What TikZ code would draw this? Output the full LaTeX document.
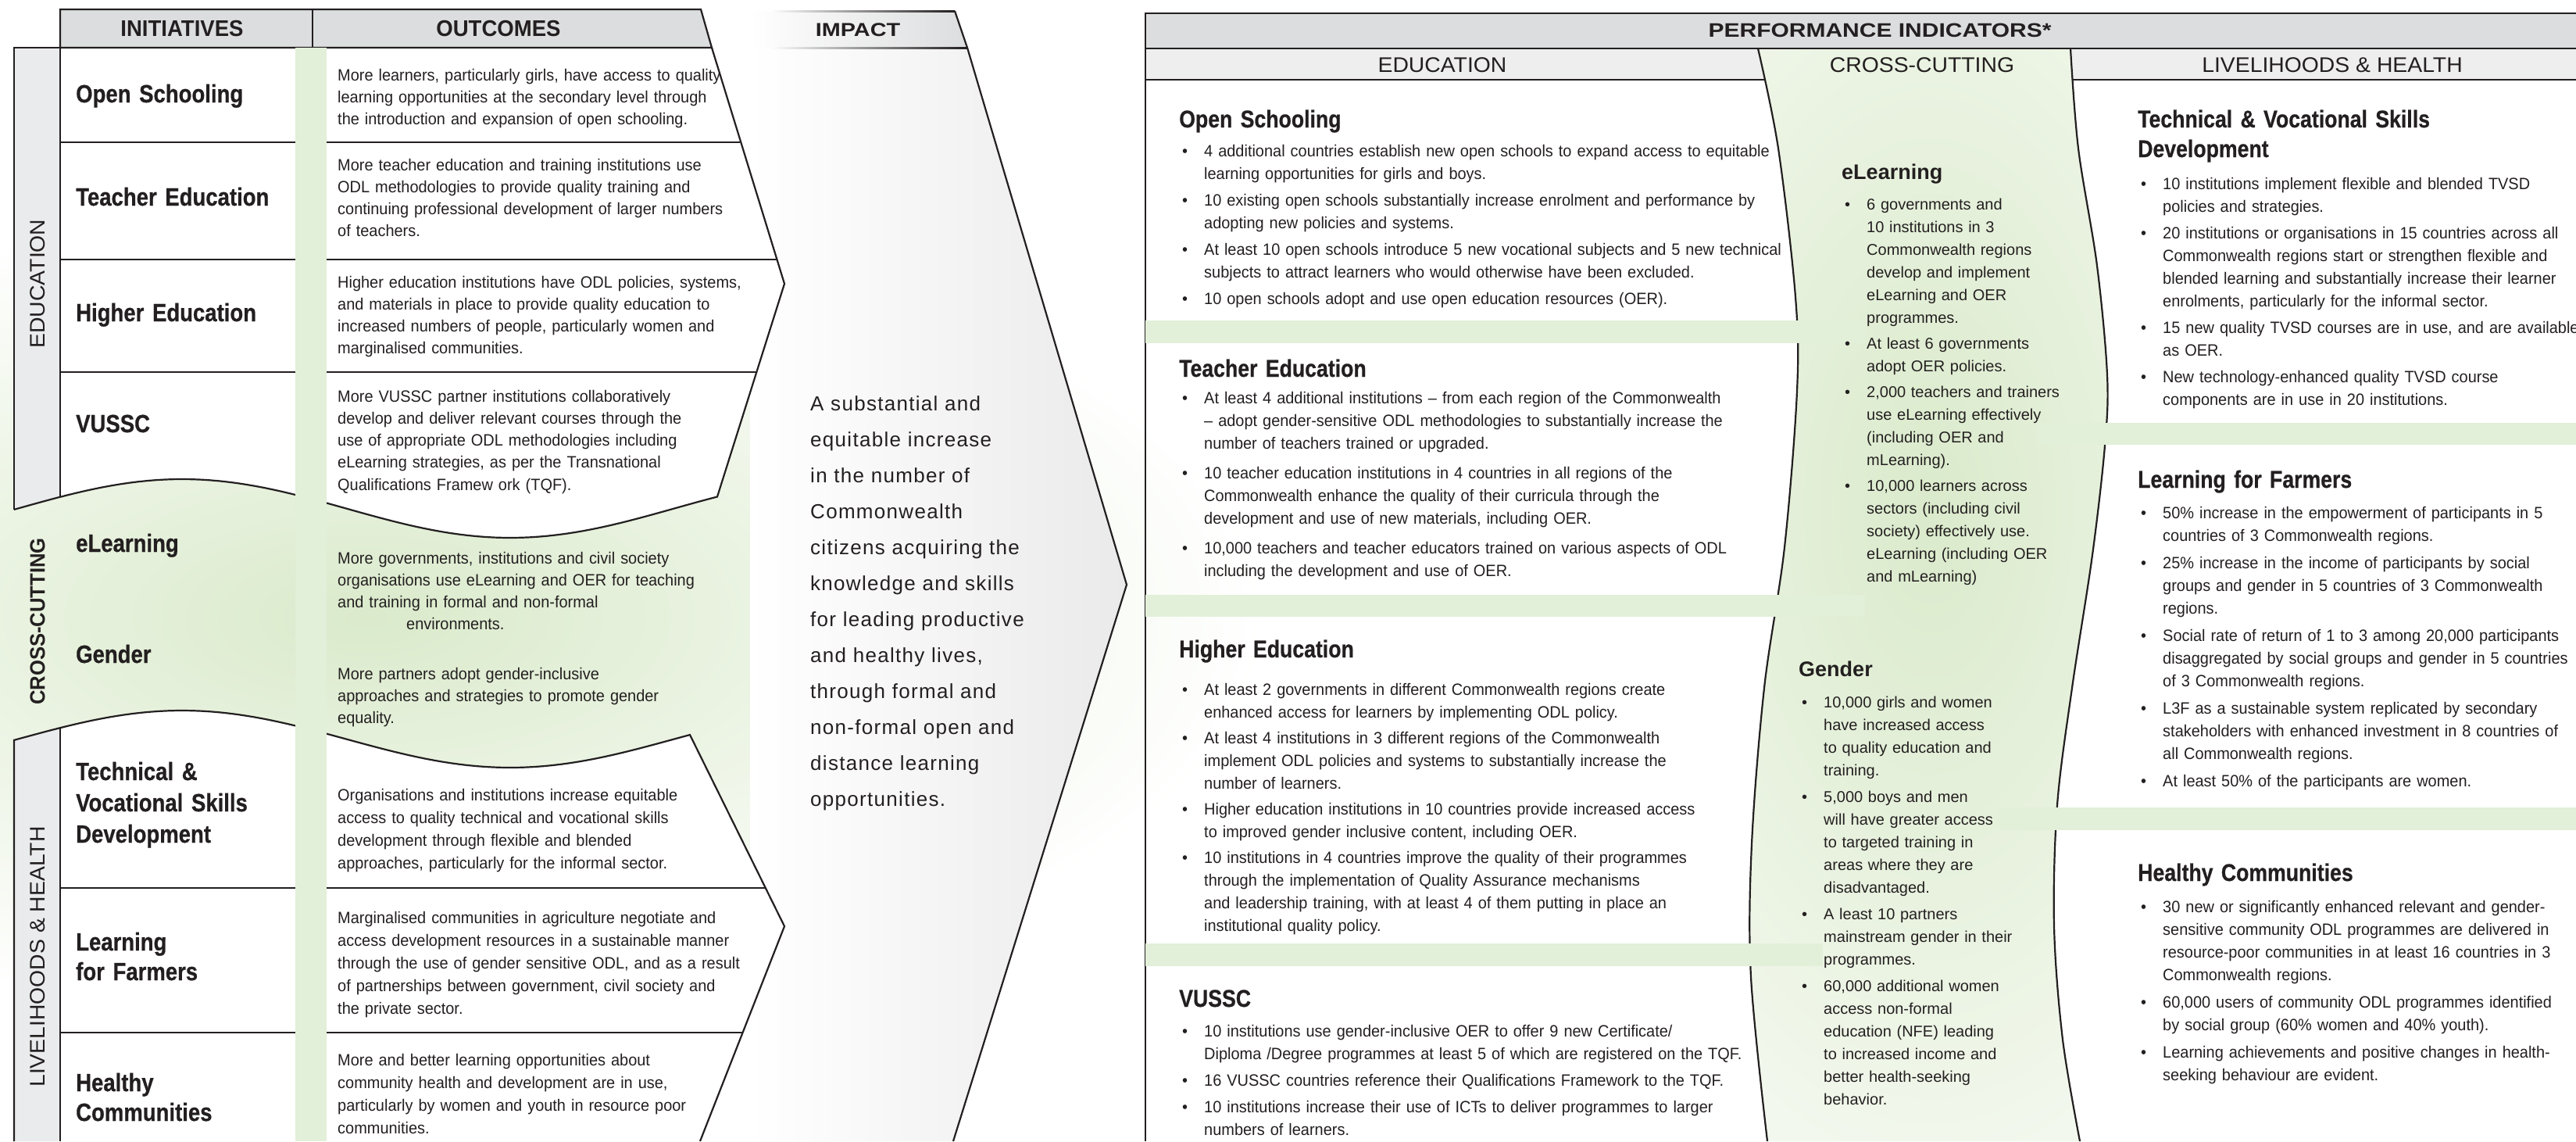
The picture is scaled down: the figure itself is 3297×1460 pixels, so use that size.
\documentclass[tikz,border=0pt]{standalone}
\usepackage{fontspec}
\setmainfont{Liberation Sans}
\newfontfamily\condfont[FakeStretch=0.95]{Liberation Sans}
\newfontfamily\labfont[FakeStretch=0.86,BoldFeatures={FakeBold=0.6}]{Liberation Sans}
\newfontfamily\capfont[FakeStretch=1.05]{Liberation Sans}
\newfontfamily\widefont[FakeStretch=1.2]{Liberation Sans}
\newfontfamily\impfont[LetterSpace=5]{Liberation Sans}

\definecolor{ink}{HTML}{231F20}
\definecolor{hdrgray}{HTML}{DCDDDE}
\definecolor{subgray}{HTML}{EEEEEF}
\definecolor{bandgray}{HTML}{EAEBEC}
\definecolor{impgray}{HTML}{EAEAEA}
\definecolor{stripgreen}{HTML}{E2EFD9}
\definecolor{glowgreen}{HTML}{DAEACB}

\newlength{\itemgap}
\newcommand{\bitem}[1]{\noindent\makebox[32pt][l]{\hspace{4pt}\textbullet}\begin{tabular}[t]{@{}l@{}}#1\end{tabular}\par\vspace{\itemgap}}

\begin{document}
\begin{tikzpicture}[x=1pt,y=-1pt,
  declare function={wtop(\x)=650.5-37.5*cos(0.428571*(\x-233));
                    wbot(\x)=945.5-36.5*cos(0.428571*(\x-233));},
  edge/.style={draw=ink,line width=2.2pt},
  rowline/.style={draw=ink,line width=1.8pt},
  hdrtext/.style={anchor=base,inner sep=0pt,text=ink,font={\condfont\bfseries\fontsize{29}{32}\selectfont}},
  widehdr/.style={anchor=base,inner sep=0pt,text=ink,font={\widefont\bfseries\fontsize{25}{28}\selectfont}},
  subhdr/.style={anchor=base,inner sep=0pt,text=ink,font={\capfont\fontsize{27}{30}\selectfont}},
  initlabel/.style={anchor=base west,inner sep=0pt,text width=300pt,align=left,text=ink,font={\labfont\bfseries\fontsize{32}{40}\selectfont}},
  outtext/.style={anchor=base west,inner sep=0pt,text width=560pt,align=left,text=ink,font={\condfont\fontsize{21}{#1}\selectfont}},
  outtext/.default=28.3,
  eduhead/.style={anchor=base west,inner sep=0pt,text width=600pt,align=left,text=ink,font={\labfont\bfseries\fontsize{31}{38}\selectfont}},
  crosshead/.style={anchor=base west,inner sep=0pt,text=ink,font={\bfseries\fontsize{27}{32}\selectfont}},
  edulist/.style={anchor=base west,inner sep=0pt,text width=800pt,align=left,text=ink,
    font={\condfont\fontsize{21}{29}\selectfont\lineskip=0pt},execute at begin node={\setlength{\itemgap}{#1}}},
  crosslist/.style={anchor=base west,inner sep=0pt,text width=400pt,align=left,text=ink,
    font={\fontsize{20}{29}\selectfont\lineskip=0pt},execute at begin node={\setlength{\itemgap}{#1}}},
  imptext/.style={anchor=base west,inner sep=0pt,text width=420pt,align=left,text=ink,font={\impfont\fontsize{26}{46}\selectfont}}]

\path[use as bounding box] (0,0) rectangle (3297,1460);

% glow behind the cross-cutting band
\shade[inner color=glowgreen,outer color=white] (470,790) ellipse [x radius=1150pt,y radius=520pt];

% impact arrow
\shade[left color=white,right color=impgray] (960,61) -- (1238,61) -- (1442,748) -- (1220,1460) -- (960,1460) -- cycle;
\shade[left color=white,right color=hdrgray] (960,14) -- (1222,14) -- (1238,61) -- (960,61) -- cycle;
\shade[left color=white,right color=ink] (985,13) rectangle (1222,15.2);
\shade[left color=white,right color=ink] (985,60) rectangle (1238,62.2);
\draw[edge] (1222,14) -- (1238,61) -- (1442,748) -- (1220,1460);

% education block
\fill[white] (77,61) -- (911,61) -- (1004,363) -- (918,{wtop(918)}) -- plot[domain=918:77,samples=80] (\x,{wtop(\x)}) -- cycle;
\fill[bandgray] (18,61) -- (77,61) -- (77,{wtop(77)}) -- plot[domain=77:18,samples=20] (\x,{wtop(\x)}) -- cycle;
\filldraw[fill=hdrgray,edge] (77,12) -- (897,12) -- (911,61) -- (77,61) -- cycle;
\draw[edge] (400,12) -- (400,61);
\draw[edge] (18,{wtop(18)}) -- (18,61) -- (77,61);
\draw[edge] (77,61) -- (77,{wtop(77)});
\draw[edge] plot[domain=18:918,samples=80] (\x,{wtop(\x)}) -- (1004,363) -- (911,61);
\draw[rowline] (77,182) -- (947,182);
\draw[rowline] (77,332) -- (994,332);
\draw[rowline] (77,476) -- (968,476);

% livelihoods block
\fill[white] plot[domain=77:883,samples=80] (\x,{wbot(\x)}) -- (1004,1185) -- (896,1460) -- (77,1460) -- cycle;
\fill[bandgray] plot[domain=18:77,samples=20] (\x,{wbot(\x)}) -- (77,1460) -- (18,1460) -- cycle;
\draw[edge] (18,1460) -- plot[domain=18:883,samples=80] (\x,{wbot(\x)}) -- (1004,1185) -- (896,1460);
\draw[edge] (77,{wbot(77)}) -- (77,1460);
\draw[rowline] (77,1136) -- (980,1136);
\draw[rowline] (77,1321) -- (950,1321);

\fill[stripgreen] (378,61) rectangle (418,1460);

% performance indicators panel
\fill[hdrgray] (1466,17) rectangle (3297,62);
\fill[subgray] (1466,62) rectangle (3297,102);
\draw[edge] (1466,102) -- (3297,102);
\begin{scope}
\clip (2250,62) -- (2650,62)
  -- plot[smooth,tension=0.55] coordinates {(2650,62) (2660,190) (2684,340) (2697,480) (2694,570) (2678,710) (2652,880) (2633,1030) (2629,1185) (2640,1330) (2662,1460)}
  -- plot[smooth,tension=0.55] coordinates {(2262,1460) (2241,1250) (2242,1080) (2258,880) (2284,700) (2300,500) (2298,380) (2276,190) (2250,62)} -- cycle;
\fill[white] (2200,62) rectangle (2720,1460);
\shade[inner color=glowgreen,outer color=white] (2470,650) ellipse [x radius=700pt,y radius=1300pt];
\end{scope}
\draw[edge] (3297,17) -- (1466,17) -- (1466,1460);
\draw[edge] (1466,62) -- (3297,62);
\draw[edge] plot[smooth,tension=0.55] coordinates {(2250,62) (2276,190) (2298,380) (2300,500) (2284,700) (2258,880) (2242,1080) (2241,1250) (2262,1460)};
\draw[edge] plot[smooth,tension=0.55] coordinates {(2650,62) (2660,190) (2684,340) (2697,480) (2694,570) (2678,710) (2652,880) (2633,1030) (2629,1185) (2640,1330) (2662,1460)};

\fill[stripgreen] (1466,410) rectangle (2388,439);
\fill[stripgreen] (2608,541) rectangle (3297,569);
\fill[stripgreen] (1466,761) rectangle (2387,789);
\fill[stripgreen] (2559,1033) rectangle (3297,1062);
\fill[stripgreen] (1466,1207) rectangle (2333,1236);

% headers
\node[hdrtext] (hinit) at (233,46) {INITIATIVES};
\node[hdrtext] (hout) at (638,46) {OUTCOMES};
\node[widehdr,font={\widefont\bfseries\fontsize{24}{26}\selectfont}] (himp) at (1098,46) {IMPACT};
\node[widehdr] (hperf) at (2406,47) {PERFORMANCE INDICATORS*};
\node[subhdr] (sedu) at (1846,92) {EDUCATION};
\node[subhdr] (scross) at (2460,92) {CROSS-CUTTING};
\node[subhdr] (sliv) at (2985,92) {LIVELIHOODS \& HEALTH};

\node[subhdr,anchor=center,rotate=90] (cedu) at (48,363) {EDUCATION};
\node[subhdr,anchor=center,rotate=90,font={\condfont\bfseries\fontsize{27}{30}\selectfont}] (ccross) at (48,795) {CROSS-CUTTING};
\node[subhdr,anchor=center,rotate=90] (cliv) at (48,1224) {LIVELIHOODS \& HEALTH};

% initiatives
\node[initlabel] (iopen) at (97,131) {Open Schooling};
\node[initlabel] (iteach) at (97,263) {Teacher Education};
\node[initlabel] (ihigh) at (97,411) {Higher Education};
\node[initlabel] (ivussc) at (97,553) {VUSSC};
\node[initlabel] (ielearn) at (97,706) {eLearning};
\node[initlabel] (igender) at (97,848) {Gender};
\node[initlabel] (itvsd) at (97,998) {Technical \&\\Vocational Skills\\Development};
\node[initlabel,font={\labfont\bfseries\fontsize{32}{38}\selectfont}] (ifarm) at (97,1216) {Learning\\for Farmers};
\node[initlabel,font={\labfont\bfseries\fontsize{32}{38}\selectfont}] (ihealth) at (97,1396) {Healthy\\Communities};

% outcomes
\node[outtext] (oopen) at (432,103) {More learners, particularly girls, have access to quality\\learning opportunities at the secondary level through\\the introduction and expansion of open schooling.};
\node[outtext] (oteach) at (432,218) {More teacher education and training institutions use\\ODL methodologies to provide quality training and\\continuing professional development of larger numbers\\of teachers.};
\node[outtext] (ohigh) at (432,368) {Higher education institutions have ODL policies, systems,\\and materials in place to provide quality education to\\increased numbers of people, particularly women and\\marginalised communities.};
\node[outtext] (ovussc) at (432,514) {More VUSSC partner institutions collaboratively\\develop and deliver relevant courses through the\\use of appropriate ODL methodologies including\\eLearning strategies, as per the Transnational\\Qualifications Framew ork (TQF).};
\node[outtext] (oelearn) at (432,721) {More governments, institutions and civil society\\organisations use eLearning and OER for teaching\\and training in formal and non-formal\\\hspace*{88pt}environments.};
\node[outtext] (ogender) at (432,869) {More partners adopt gender-inclusive\\approaches and strategies to promote gender\\equality.};
\node[outtext=29] (otvsd) at (432,1024) {Organisations and institutions increase equitable\\access to quality technical and vocational skills\\development through flexible and blended\\approaches, particularly for the informal sector.};
\node[outtext=29] (ofarm) at (432,1181) {Marginalised communities in agriculture negotiate and\\access development resources in a sustainable manner\\through the use of gender sensitive ODL, and as a result\\of partnerships between government, civil society and\\the private sector.};
\node[outtext=29] (ohealth) at (432,1363) {More and better learning opportunities about\\community health and development are in use,\\particularly by women and youth in resource poor\\communities.};

% impact
\node[imptext] (impact) at (1037,525) {A substantial and\\equitable increase\\in the number of\\Commonwealth\\citizens acquiring the\\knowledge and skills\\for leading productive\\and healthy lives,\\through formal and\\non-formal open and\\distance learning\\opportunities.};

% education indicators
\node[eduhead] (popen) at (1509,163) {Open Schooling};
\node[edulist=5pt] (lopen) at (1509,200) {%
\bitem{4 additional countries establish new open schools to expand access to equitable\\learning opportunities for girls and boys.}
\bitem{10 existing open schools substantially increase enrolment and performance by\\adopting new policies and systems.}
\bitem{At least 10 open schools introduce 5 new vocational subjects and 5 new technical\\subjects to attract learners who would otherwise have been excluded.}
\bitem{10 open schools adopt and use open education resources (OER).}};
\node[eduhead] (pteach) at (1509,482) {Teacher Education};
\node[edulist=9pt] (lteach) at (1509,516) {%
\bitem{At least 4 additional institutions – from each region of the Commonwealth\\– adopt gender-sensitive ODL methodologies to substantially increase the\\number of teachers trained or upgraded.}
\bitem{10 teacher education institutions in 4 countries in all regions of the\\Commonwealth enhance the quality of their curricula through the\\development and use of new materials, including OER.}
\bitem{10,000 teachers and teacher educators trained on various aspects of ODL\\including the development and use of OER.}};
\node[eduhead] (phigh) at (1509,841) {Higher Education};
\node[edulist=4pt] (lhigh) at (1509,889) {%
\bitem{At least 2 governments in different Commonwealth regions create\\enhanced access for learners by implementing ODL policy.}
\bitem{At least 4 institutions in 3 different regions of the Commonwealth\\implement ODL policies and systems to substantially increase the\\number of learners.}
\bitem{Higher education institutions in 10 countries provide increased access\\to improved gender inclusive content, including OER.}
\bitem{10 institutions in 4 countries improve the quality of their programmes\\through the implementation of Quality Assurance mechanisms\\and leadership training, with at least 4 of them putting in place an\\institutional quality policy.}};
\node[eduhead] (pvussc) at (1509,1288) {VUSSC};
\node[edulist=5pt] (lvussc) at (1509,1326) {%
\bitem{10 institutions use gender-inclusive OER to offer 9 new Certificate/\\Diploma /Degree programmes at least 5 of which are registered on the TQF.}
\bitem{16 VUSSC countries reference their Qualifications Framework to the TQF.}
\bitem{10 institutions increase their use of ICTs to deliver programmes to larger\\numbers of learners.}};

% cross-cutting indicators
\node[crosshead] (pelearn) at (2357,229) {eLearning};
\node[crosslist=4pt] (lelearn) at (2357,268) {%
\bitem{6 governments and\\10 institutions in 3\\Commonwealth regions\\develop and implement\\eLearning and OER\\programmes.}
\bitem{At least 6 governments\\adopt OER policies.}
\bitem{2,000 teachers and trainers\\use eLearning effectively\\(including OER and\\mLearning).}
\bitem{10,000 learners across\\sectors (including civil\\society) effectively use.\\eLearning (including OER\\and mLearning)}};
\node[crosshead] (pgender) at (2302,865) {Gender};
\node[crosslist=5pt] (lgender) at (2302,905) {%
\bitem{10,000 girls and women\\have increased access\\to quality education and\\training.}
\bitem{5,000 boys and men\\will have greater access\\to targeted training in\\areas where they are\\disadvantaged.}
\bitem{A least 10 partners\\mainstream gender in their\\programmes.}
\bitem{60,000 additional women\\access non-formal\\education (NFE) leading\\to increased income and\\better health-seeking\\behavior.}};

% livelihoods & health indicators
\node[eduhead] (ptvsd) at (2736,163) {Technical \& Vocational Skills\\Development};
\node[edulist=5pt] (ltvsd) at (2736,242) {%
\bitem{10 institutions implement flexible and blended TVSD\\policies and strategies.}
\bitem{20 institutions or organisations in 15 countries across all\\Commonwealth regions start or strengthen flexible and\\blended learning and substantially increase their learner\\enrolments, particularly for the informal sector.}
\bitem{15 new quality TVSD courses are in use, and are available\\as OER.}
\bitem{New technology-enhanced quality TVSD course\\components are in use in 20 institutions.}};
\node[eduhead] (pfarm) at (2736,624) {Learning for Farmers};
\node[edulist=6pt] (lfarm) at (2736,663) {%
\bitem{50\% increase in the empowerment of participants in 5\\countries of 3 Commonwealth regions.}
\bitem{25\% increase in the income of participants by social\\groups and gender in 5 countries of 3 Commonwealth\\regions.}
\bitem{Social rate of return of 1 to 3 among 20,000 participants\\disaggregated by social groups and gender in 5 countries\\of 3 Commonwealth regions.}
\bitem{L3F as a sustainable system replicated by secondary\\stakeholders with enhanced investment in 8 countries of\\all Commonwealth regions.}
\bitem{At least 50\% of the participants are women.}};
\node[eduhead] (phealth) at (2736,1127) {Healthy Communities};
\node[edulist=6pt] (lhealth) at (2736,1167) {%
\bitem{30 new or significantly enhanced relevant and gender-\\sensitive community ODL programmes are delivered in\\resource-poor communities in at least 16 countries in 3\\Commonwealth regions.}
\bitem{60,000 users of community ODL programmes identified\\by social group (60\% women and 40\% youth).}
\bitem{Learning achievements and positive changes in health-\\seeking behaviour are evident.}};
\end{tikzpicture}
\end{document}
